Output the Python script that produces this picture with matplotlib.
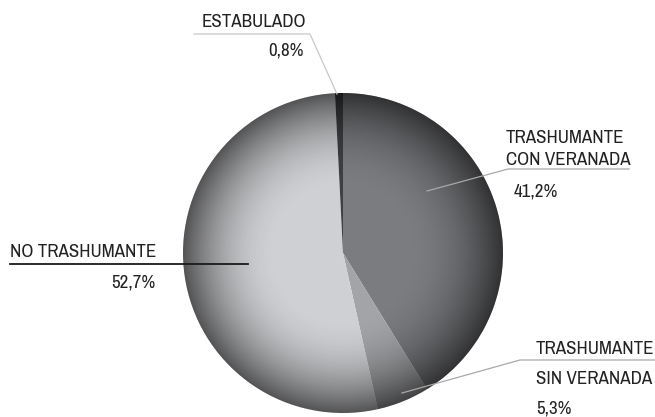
import matplotlib.pyplot as plt
import numpy as np
from matplotlib.patches import Circle
from matplotlib import font_manager as fm

# Data
labels = ['TRASHUMANTE\nCON VERANADA', 'TRASHUMANTE\nSIN VERANADA', 'NO TRASHUMANTE', 'ESTABULADO']
values = [41.2, 5.3, 52.7, 0.8]
colors = ['#7b7c80', '#a3a4a7', '#cfd0d3', '#3f4042']

W, H = 655, 417

# look for a narrow/condensed font (lighter weights preferred)
def wnum(w):
    names = {'light': 300, 'normal': 400, 'regular': 400, 'book': 400, 'medium': 500}
    return w if isinstance(w, int) else names.get(str(w).lower(), 700)

narrow = [f for f in fm.fontManager.ttflist
          if ('Narrow' in f.name or 'Condensed' in f.name
              or f.stretch in ('condensed', 'extra-condensed', 'semi-condensed'))
          and f.style == 'normal' and 300 <= wnum(f.weight) <= 400]
narrow.sort(key=lambda f: (0 if 'Narrow' in f.name else 1,
                           0 if f.stretch in ('condensed', 'extra-condensed') else 1,
                           wnum(f.weight), f.name))
if narrow:
    fp = fm.FontProperties(fname=narrow[0].fname, size=14)
else:
    fp = fm.FontProperties(family='Liberation Sans', size=11)

fig = plt.figure(figsize=(W / 100, H / 100), dpi=100)
ax = fig.add_axes([0, 0, 1, 1])

# scale font so that "NO TRASHUMANTE" is about as wide as in the chart
probe = fig.text(0, 0, 'NO TRASHUMANTE', fontproperties=fp)
wpx = probe.get_window_extent(renderer=fig.canvas.get_renderer()).width
probe.remove()
fp.set_size(fp.get_size() * 146 / wpx)
txt = dict(fontproperties=fp, color='#222222')

def Y(y):
    # pixel row (from top) to data y
    return H - y

cx, cy, r = 343, Y(253), 160

ax.pie(values, colors=colors, startangle=90, counterclock=False,
       center=(cx, cy), radius=r, frame=True,
       wedgeprops=dict(linewidth=0))

# radial shading over the pie
n = 400
gx, gy = np.meshgrid(np.linspace(-1, 1, n), np.linspace(-1, 1, n))
rr = np.sqrt(gx ** 2 + gy ** 2)
alpha = np.clip((rr - 0.4) / 0.6, 0, 1) ** 2.0 * 0.6
shade = np.zeros((n, n, 4))
shade[..., 3] = alpha
im = ax.imshow(shade, extent=(cx - r, cx + r, cy - r, cy + r), zorder=3,
               interpolation='bilinear')
im.set_clip_path(Circle((cx, cy), r, transform=ax.transData))

ax.set_xlim(0, W)
ax.set_ylim(0, H)
ax.set_aspect('equal')
ax.axis('off')

gray = '#a8a8a8'

# ESTABULADO
ax.text(306, Y(27), 'ESTABULADO', ha='right', va='baseline', **txt)
ax.text(304, Y(55), '0,8%', ha='right', va='baseline', **txt)
ax.plot([194, 310, 337], [Y(34), Y(34), Y(94)], color='#c8c8c8', lw=0.9, zorder=4)

# TRASHUMANTE CON VERANADA
ax.text(506, Y(143), 'TRASHUMANTE', ha='left', va='baseline', **txt)
ax.text(506, Y(165), 'CON VERANADA', ha='left', va='baseline', **txt)
ax.text(514, Y(196), '41,2%', ha='left', va='baseline', **txt)
ax.plot([629, 508, 427], [Y(169), Y(169), Y(191)], color=gray, lw=0.9, zorder=4)

# NO TRASHUMANTE
ax.text(10, Y(257), 'NO TRASHUMANTE', ha='left', va='baseline', **txt)
ax.text(155, Y(287), '52,7%', ha='right', va='baseline', **txt)
ax.plot([10, 248], [Y(264), Y(264)], color='#1a1a1a', lw=1.3, zorder=4)

# TRASHUMANTE SIN VERANADA
ax.text(536, Y(354), 'TRASHUMANTE', ha='left', va='baseline', **txt)
ax.text(536, Y(384), 'SIN VERANADA', ha='left', va='baseline', **txt)
ax.text(536, Y(413), '5,3%', ha='left', va='baseline', **txt)
ax.plot([655, 520, 402], [Y(360), Y(360), Y(393)], color=gray, lw=0.9, zorder=4)

plt.savefig('out.png', dpi=100)
